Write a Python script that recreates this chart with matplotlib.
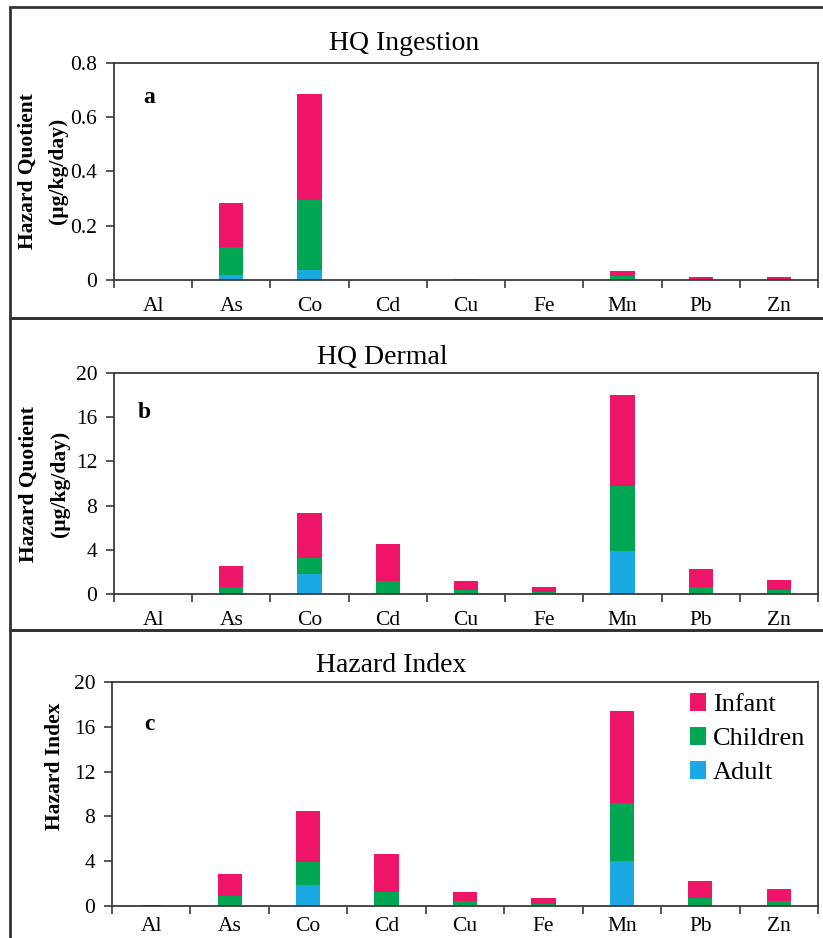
import matplotlib
matplotlib.use("Agg")
import matplotlib.pyplot as plt
from matplotlib.patches import Rectangle
from matplotlib.ticker import FixedLocator, NullFormatter
import numpy as np

plt.rcParams['font.family'] = ['Liberation Serif', 'DejaVu Serif']

elements = ['Al', 'As', 'Co', 'Cd', 'Cu', 'Fe', 'Mn', 'Pb', 'Zn']
groups = ['Adult', 'Children', 'Infant']

# segment heights (stacked: adult, children, infant)
ing_adult = [0, 0.018, 0.037, 0, 0, 0, 0.003, 0, 0]
ing_children = [0, 0.104, 0.258, 0, 0.0005, 0, 0.012, 0.002, 0.002]
ing_infant = [0, 0.162, 0.391, 0, 0.003, 0, 0.019, 0.008, 0.010]

der_adult = [0, 0.05, 1.81, 0.03, 0.02, 0.01, 3.92, 0.03, 0.02]
der_children = [0, 0.61, 1.42, 1.17, 0.34, 0.14, 5.88, 0.57, 0.30]
der_infant = [0, 1.90, 4.13, 3.30, 0.84, 0.45, 8.18, 1.63, 0.95]

hi_adult = [0, 0.05, 1.88, 0.03, 0.03, 0.01, 4.04, 0.03, 0.03]
hi_children = [0, 0.84, 2.02, 1.25, 0.42, 0.17, 5.18, 0.66, 0.42]
hi_infant = [0.08, 1.97, 4.55, 3.32, 0.83, 0.56, 8.22, 1.57, 1.04]

colors = {'Adult': '#1BA9E3', 'Children': '#00A651', 'Infant': '#EE1467'}
spine_col = '#3a3a3a'

W, H = 823, 938
fig = plt.figure(figsize=(W / 100, H / 100), dpi=100)


def px_axes(left, top, right, bottom):
	return fig.add_axes([left / W, 1 - bottom / H, (right - left) / W, (bottom - top) / H])


def stacked(ax, adult, children, infant, ymax, yticks, fmt, xpad=12):
	x = np.arange(len(elements))
	a = np.array(adult)
	c = np.array(children)
	i = np.array(infant)
	ax.bar(x, a, 0.31, color=colors['Adult'], label='Adult')
	ax.bar(x, c, 0.31, bottom=a, color=colors['Children'], label='Children')
	ax.bar(x, i, 0.31, bottom=a + c, color=colors['Infant'], label='Infant')
	ax.set_xlim(-0.5, len(elements) - 0.5)
	ax.set_ylim(0, ymax)
	ax.set_yticks(yticks)
	ax.set_yticklabels([fmt(v) for v in yticks], fontsize=15.5)
	# category labels centred, tick marks between categories
	ax.xaxis.set_major_locator(FixedLocator(x))
	ax.set_xticklabels(elements, fontsize=15.5)
	ax.tick_params(axis='x', which='major', length=0, pad=xpad)
	ax.xaxis.set_minor_locator(FixedLocator(np.arange(-0.5, len(elements), 1)))
	ax.xaxis.set_minor_formatter(NullFormatter())
	ax.tick_params(axis='x', which='minor', length=6, width=1.2, color=spine_col, direction='out')
	ax.tick_params(axis='y', length=6, width=1.2, color=spine_col, direction='out', pad=6)
	for s in ax.spines.values():
		s.set_color(spine_col)
		s.set_linewidth(1.3)


def fmt_a(v):
	return '0' if v == 0 else ('%.1f' % v)


def fmt_int(v):
	return '%d' % v


# panel frames
for top, bottom in [(7, 318), (318, 630), (630, 960)]:
	fig.add_artist(Rectangle((10 / W, 1 - bottom / H), 1.0, (bottom - top) / H,
		transform=fig.transFigure, fill=False, edgecolor='#333333', linewidth=2))

ax1 = px_axes(114, 63, 818, 280)
stacked(ax1, ing_adult, ing_children, ing_infant, 0.8, [0, 0.2, 0.4, 0.6, 0.8], fmt_a)
ax1.text(0.041, 0.84, 'a', transform=ax1.transAxes, fontsize=17, fontweight='bold', va='center')
fig.text(404 / W, 1 - 43 / H, 'HQ Ingestion', fontsize=20, ha='center', va='center')
fig.text(28 / W, 1 - 171 / H, 'Hazard Quotient', fontsize=15.5, fontweight='bold', rotation=90, ha='center', va='center')
fig.text(58 / W, 1 - 171 / H, '(µg/kg/day)', fontsize=15.5, fontweight='bold', rotation=90, ha='center', va='center')

ax2 = px_axes(114, 373, 818, 594)
stacked(ax2, der_adult, der_children, der_infant, 20, [0, 4, 8, 12, 16, 20], fmt_int)
ax2.text(0.034, 0.82, 'b', transform=ax2.transAxes, fontsize=17, fontweight='bold', va='center')
fig.text(382 / W, 1 - 357 / H, 'HQ Dermal', fontsize=20, ha='center', va='center')
fig.text(29 / W, 1 - 484 / H, 'Hazard Quotient', fontsize=15.5, fontweight='bold', rotation=90, ha='center', va='center')
fig.text(60 / W, 1 - 484 / H, '(µg/kg/day)', fontsize=15.5, fontweight='bold', rotation=90, ha='center', va='center')

ax3 = px_axes(112, 682, 818, 906)
stacked(ax3, hi_adult, hi_children, hi_infant, 20, [0, 4, 8, 12, 16, 20], fmt_int, xpad=8)
ax3.text(0.046, 0.81, 'c', transform=ax3.transAxes, fontsize=17, fontweight='bold', va='center')
fig.text(391 / W, 1 - 665 / H, 'Hazard Index', fontsize=20, ha='center', va='center')
fig.text(55 / W, 1 - 766 / H, 'Hazard Index', fontsize=15.5, fontweight='bold', rotation=90, ha='center', va='center')

handles, labels = ax3.get_legend_handles_labels()
ax3.legend(handles[::-1], labels[::-1], loc='upper right', bbox_to_anchor=(1.008, 1.035),
	frameon=False, fontsize=19, handlelength=0.6, handleheight=0.7, handletextpad=0.25,
	labelspacing=0.4, borderaxespad=0.3)

fig.savefig('out.png', dpi=100)
